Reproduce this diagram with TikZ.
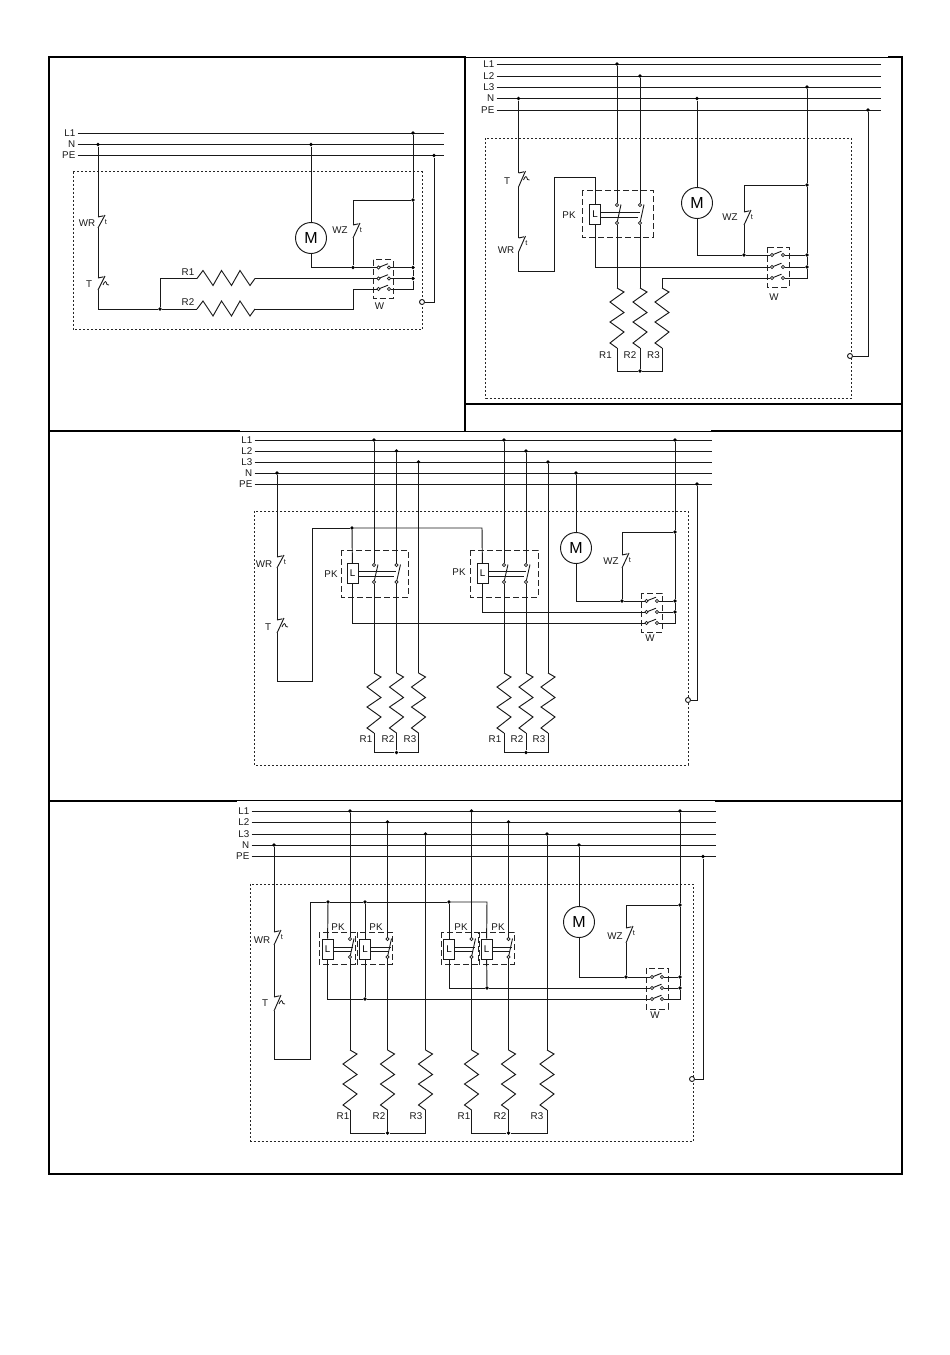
\documentclass[tikz,border=0pt]{standalone}
\usepackage{fontspec}
\setmainfont{Liberation Sans}
\tikzset{
  wire/.style={line width=0.95pt,line join=miter,draw=black!90},
  framefat/.style={line width=2pt,draw=black,line cap=rect},
  framethin/.style={line width=1pt,draw=black},
  dotbox/.style={line width=0.95pt,draw=black!85,dash pattern=on 2pt off 2pt},
  dashbox/.style={line width=0.95pt,draw=black!85,dash pattern=on 6pt off 3pt},
  lbl/.style={font=\fontsize{9.8}{10}\selectfont,inner sep=0.5pt,text=black!90},
  tiny/.style={font=\fontsize{7.5}{8}\selectfont,inner sep=0pt,text=black!90},
  jdot/.style={circle,fill=black,inner sep=0pt,minimum size=3.8pt},
  pole/.style={circle,draw=black!90,fill=white,line width=0.7pt,inner sep=0pt,minimum size=3.2pt},
  term/.style={circle,draw=black!90,fill=white,line width=0.9pt,inner sep=0pt,minimum size=5pt},
  motor/.style={circle,draw=black!90,line width=0.95pt,inner sep=0pt,minimum size=31pt,font=\fontsize{16}{17}\selectfont},
  lcoil/.style={rectangle,draw=black!90,line width=0.95pt,inner sep=0pt,minimum width=11pt,minimum height=20pt,font=\fontsize{9.8}{10}\selectfont},
}
% named helpers
\newcommand{\busln}[5]{\node[lbl,anchor=east] (#1) at (#3,#4) {#2}; \coordinate (#1-e) at (#5,#4); \draw[wire] (#1.east) ++(1.5,0) -- (#1-e);}
\newcommand{\jn}[3]{\node[jdot] (#1) at (#2,#3) {};}
\newcommand{\cpt}[3]{\coordinate (#1) at (#2,#3);}
\newcommand{\lab}[4]{\node[lbl] (#1) at (#2,#3) {#4};}
\newcommand{\vres}[3]{\draw[wire] (#2,#3) coordinate (#1-t) -- ++(7,4) -- ++(-14,10) -- ++(14,10.5) -- ++(-14,9.5) -- ++(14,10) -- ++(-14,11) -- ++(7,5) coordinate (#1-b);}
\newcommand{\hres}[3]{\draw[wire] (#2,#3) coordinate (#1-l) -- ++(6,-8) -- ++(10,15) -- ++(8.5,-15) -- ++(10,15) -- ++(8.5,-15) -- ++(10,15) -- ++(5,-7) coordinate (#1-r);}
% normally closed contact: name x top bottom
\newcommand{\ncbase}[4]{\coordinate (#1-t) at (#2,#3); \coordinate (#1-b) at (#2,#4);
  \draw[wire] (#1-b) -- ([shift={(7pt,2pt)}]#1-t); \draw[wire] (#1-t) -- ([shift={(5.5pt,1.2pt)}]#1-t);}
\newcommand{\nct}[4]{\ncbase{#1}{#2}{#3}{#4}\node[tiny] (#1-x) at ([shift={(8pt,-5.5pt)}]#1-t) {t};}
\newcommand{\ncw}[4]{\ncbase{#1}{#2}{#3}{#4}\draw[line width=0.8pt,black!90] ([shift={(5pt,-7pt)}]#1-t) .. controls ([shift={(7pt,-2.5pt)}]#1-t) and ([shift={(8pt,-2.5pt)}]#1-t) .. ([shift={(9pt,-6.5pt)}]#1-t) -- ([shift={(11pt,-7pt)}]#1-t);}
% three-phase row contact of W: name xleft xright y
\newcommand{\wrow}[4]{\draw[wire,line width=0.9pt] (#2,#4) -- ++(9.5,-3.8);
  \node[pole] (#1-l) at (#2,#4) {}; \node[pole] (#1-r) at (#3,#4) {};}
% PK contact: name x ytop ybot
\newcommand{\pkc}[4]{\path (#2,#3) ++(4,-0.5) coordinate (#1-k); \draw[wire,line width=0.9pt] (#2,#4) -- (#1-k);
  \node[pole] (#1-t) at (#2,#3) {}; \node[pole] (#1-b) at (#2,#4) {};}
\begin{document}
\begin{tikzpicture}[x=1pt,y=-1pt]
\useasboundingbox (0,0) rectangle (950,1355);
% ---------- frame
\draw[framefat] (49,57) -- (902,57) -- (902,1174) -- (49,1174) -- cycle;
\draw[framefat] (465,57) -- (465,431);
\draw[framefat] (465,404) -- (902,404);
\draw[framefat] (49,431) -- (239,431);
\draw[framefat] (712,431) -- (902,431);
\draw[framethin] (239,431) -- (712,431);
\draw[framefat] (49,800.5) -- (236,800.5);
\draw[framefat] (716,800.5) -- (902,800.5);
\draw[framethin] (236,800.5) -- (716,800.5);
\draw[white,line width=1.2pt] (466,56.6) -- (888,56.6);

% ========== panel A
\busln{aL1}{L1}{76}{133}{444}
\busln{aN}{N}{76}{144.5}{444}
\busln{aPE}{PE}{76}{155.5}{444}
\draw[dotbox] (73,171.5) rectangle (422,329.5);
\jn{aj1}{98}{144.5}
\jn{aj2}{311}{144.5}
\jn{aj3}{413}{133}
\jn{aj4}{434}{155.5}
\jn{aj5}{413}{200}
\jn{aj6}{413}{267.5}
\jn{aj7}{413}{278.5}
\jn{aj8}{353}{267.5}
\jn{aj9}{160}{309}
\cpt{ac1}{353}{309}
\node[term] (aO) at (422,302) {};
\nct{aWR}{98}{217}{228}
\ncw{aT}{98}{278}{290}
\nct{aWZ}{353}{225}{238}
\hres{aR1}{197}{278.5}
\hres{aR2}{197}{309}
\node[motor] (aM) at (311,238) {M};
\wrow{aK1}{378.5}{389}{267.5}
\wrow{aK2}{378.5}{389}{278.5}
\wrow{aK3}{378.5}{389}{289}
\draw[dashbox] (373,259.5) rectangle (393,298);
\draw[wire] (aj1) -- (aWR-t);
\draw[wire] (aWR-b) -- (aT-t);
\draw[wire] (aT-b) |- (aj9);
\draw[wire] (aj9) -- (aR2-l);
\draw[wire] (aj9) |- (aR1-l);
\draw[wire] (aR1-r) -- (aK2-l);
\draw[wire] (aK2-r) -- (aj7);
\draw[wire] (aR2-r) -- (ac1) |- (aK3-l);
\draw[wire] (aK3-r) -| (aj7);
\draw[wire] (aj3) -- (aj5);
\draw[wire] (aj5) -- (aj6);
\draw[wire] (aj6) -- (aj7);
\draw[wire] (aj2) -- (aM);
\draw[wire] (aM) |- (aj8);
\draw[wire] (aj8) -- (aK1-l);
\draw[wire] (aK1-r) -- (aj6);
\draw[wire] (aj5) -| (aWZ-t);
\draw[wire] (aWZ-b) -- (aj8);
\draw[wire] (aj4) |- (aO);
\lab{aLa}{87}{223}{WR}
\lab{aLb}{89}{284}{T}
\lab{aLc}{188}{272}{R1}
\lab{aLd}{188}{302.5}{R2}
\lab{aLe}{340}{230}{WZ}
\lab{aLf}{379.5}{306.5}{W}

% ========== panel B
\busln{bL1}{L1}{495}{64}{881}
\busln{bL2}{L2}{495}{76}{881}
\busln{bL3}{L3}{495}{87}{881}
\busln{bN}{N}{495}{98.5}{881}
\busln{bPE}{PE}{495}{110}{881}
\draw[dotbox] (485.5,138) rectangle (851,398);
\jn{bj1}{518.5}{98.5}
\jn{bj2}{617}{64}
\jn{bj3}{640}{76}
\jn{bj4}{697}{98.5}
\jn{bj5}{807}{87}
\jn{bj6}{868}{110}
\jn{bj7}{807}{185}
\jn{bj8}{807}{255}
\jn{bj9}{807}{267}
\jn{bj10}{744}{255}
\jn{bj11}{640}{371}
\node[term] (bO) at (850,356) {};
\ncw{bT}{518.5}{173}{187}
\nct{bWR}{518.5}{238}{252}
\nct{bWZ}{744}{212}{225}
\cpt{bc1}{518.5}{271}
\cpt{bc2}{554}{177}
\node[lcoil] (bK) at (595,214.5) {L};
\pkc{bC1}{617}{205}{223}
\pkc{bC2}{640}{205}{223}
\draw[dashbox] (582,190) rectangle (653,237);
\draw[wire] ([yshift=2.5pt]bK.east) -- ++(39,0);
\draw[wire] ([yshift=-2.5pt]bK.east) -- ++(37,0);
\vres{bR1}{617}{288}
\vres{bR2}{640}{288}
\vres{bR3}{662}{288}
\node[motor] (bM) at (697,203) {M};
\wrow{bS1}{772}{783}{255}
\wrow{bS2}{772}{783}{267}
\wrow{bS3}{772}{783}{278}
\draw[dashbox] (767,247) rectangle (789,287);
\cpt{bc3}{662}{278}
\cpt{bc4}{617}{371}
\cpt{bc5}{662}{371}
\draw[wire] (bj1) -- (bT-t);
\draw[wire] (bT-b) -- (bWR-t);
\draw[wire] (bWR-b) -- (bc1) -| (bc2) -| (bK);
\draw[wire] (bK) |- (bS2-l);
\draw[wire] (bS2-r) -- (bj9);
\draw[wire] (bj2) -- (bC1-t);
\draw[wire] (bj3) -- (bC2-t);
\draw[wire] (bC1-b) -- (bR1-t);
\draw[wire] (bC2-b) -- (bR2-t);
\draw[wire] (bR3-t) -- (bc3) -- (bS3-l);
\draw[wire] (bS3-r) -| (bj9);
\draw[wire] (bj5) -- (bj7);
\draw[wire] (bj7) -- (bj8);
\draw[wire] (bj8) -- (bj9);
\draw[wire] (bj4) -- (bM);
\draw[wire] (bM) |- (bj10);
\draw[wire] (bj10) -- (bS1-l);
\draw[wire] (bS1-r) -- (bj8);
\draw[wire] (bj7) -| (bWZ-t);
\draw[wire] (bWZ-b) -- (bj10);
\draw[wire] (bj6) |- (bO);
\draw[wire] (bR1-b) -- (bc4) -- (bj11);
\draw[wire] (bR2-b) -- (bj11);
\draw[wire] (bR3-b) -- (bc5) -- (bj11);
\lab{bLa}{507}{181}{T}
\lab{bLb}{506}{250}{WR}
\lab{bLc}{569}{215}{PK}
\lab{bLd}{730}{217}{WZ}
\lab{bLe}{774}{297}{W}
\lab{bLf}{605.5}{355}{R1}
\lab{bLg}{630}{355}{R2}
\lab{bLh}{653.5}{355}{R3}

% ========== panel C
\busln{cL1}{L1}{253}{440}{712}
\busln{cL2}{L2}{253}{451}{712}
\busln{cL3}{L3}{253}{462}{712}
\busln{cN}{N}{253}{473}{712}
\busln{cPE}{PE}{253}{484}{712}
\draw[dotbox] (254,511) rectangle (688,765);
\jn{cj1}{277}{473}
\jn{cj2}{374}{440}
\jn{cj3}{396.5}{451}
\jn{cj4}{418.5}{462}
\jn{cj5}{504}{440}
\jn{cj6}{526}{451}
\jn{cj7}{548}{462}
\jn{cj8}{576}{473}
\jn{cj9}{675}{440}
\jn{cj10}{697}{484}
\jn{cj11}{352}{528}
\jn{cj12}{675}{532}
\jn{cj13}{675}{601}
\jn{cj14}{675}{612}
\jn{cj15}{622}{601}
\jn{cj16}{396.5}{752.5}
\jn{cj17}{526}{752.5}
\node[term] (cO) at (688,700) {};
\nct{cWR}{277}{557}{568}
\ncw{cT}{277}{620}{633}
\nct{cWZ}{622}{555}{568}
\cpt{cc1}{277}{681}
\cpt{cc2}{312}{528}
\cpt{cc3}{482}{528}
\node[lcoil] (cKa) at (352.5,573.5) {L};
\node[lcoil] (cKb) at (482.5,573.5) {L};
\pkc{cA1}{374}{565}{582}
\pkc{cA2}{396.5}{565}{582}
\pkc{cB1}{504}{565}{582}
\pkc{cB2}{526}{565}{582}
\draw[dashbox] (341,550) rectangle (408,597);
\draw[dashbox] (470,550) rectangle (538,597);
\draw[wire] ([yshift=2.5pt]cKa.east) -- ++(38,0);
\draw[wire] ([yshift=-2.5pt]cKa.east) -- ++(36,0);
\draw[wire] ([yshift=2.5pt]cKb.east) -- ++(38,0);
\draw[wire] ([yshift=-2.5pt]cKb.east) -- ++(36,0);
\vres{cR1}{374}{673}
\vres{cR2}{396.5}{673}
\vres{cR3}{418.5}{673}
\vres{cR4}{504}{673}
\vres{cR5}{526}{673}
\vres{cR6}{548}{673}
\node[motor] (cM) at (576,548) {M};
\wrow{cS1}{646.5}{657}{601}
\wrow{cS2}{646.5}{657}{612}
\wrow{cS3}{646.5}{657}{623}
\draw[dashbox] (641,593) rectangle (662,632);
\draw[wire] (cj1) -- (cWR-t);
\draw[wire] (cWR-b) -- (cT-t);
\draw[wire] (cT-b) -- (cc1) -- (cc1 -| cc2) -- (cc2) -- (cj11);
\draw[wire] (cj11) -- (cc3) -- (cKb);
\draw[wire] (cj11) -- (cKa);
\draw[wire] (cKa) |- (cS3-l);
\draw[wire] (cKb) |- (cS2-l);
\draw[wire] (cS2-r) -- (cj14);
\draw[wire] (cS3-r) -| (cj14);
\draw[wire] (cj2) -- (cA1-t);
\draw[wire] (cj3) -- (cA2-t);
\draw[wire] (cj5) -- (cB1-t);
\draw[wire] (cj6) -- (cB2-t);
\draw[wire] (cA1-b) -- (cR1-t);
\draw[wire] (cA2-b) -- (cR2-t);
\draw[wire] (cj4) -- (cR3-t);
\draw[wire] (cB1-b) -- (cR4-t);
\draw[wire] (cB2-b) -- (cR5-t);
\draw[wire] (cj7) -- (cR6-t);
\draw[wire] (cj9) -- (cj12);
\draw[wire] (cj12) -- (cj13);
\draw[wire] (cj13) -- (cj14);
\draw[wire] (cj8) -- (cM);
\draw[wire] (cM) |- (cj15);
\draw[wire] (cj15) -- (cS1-l);
\draw[wire] (cS1-r) -- (cj13);
\draw[wire] (cj12) -| (cWZ-t);
\draw[wire] (cWZ-b) -- (cj15);
\draw[wire] (cj10) |- (cO);
\draw[wire] (cR1-b) |- (cj16);
\draw[wire] (cR2-b) -- (cj16);
\draw[wire] (cR3-b) |- (cj16);
\draw[wire] (cR4-b) |- (cj17);
\draw[wire] (cR5-b) -- (cj17);
\draw[wire] (cR6-b) |- (cj17);
\lab{cLa}{264}{564}{WR}
\lab{cLb}{268}{627}{T}
\lab{cLc}{331}{574.5}{PK}
\lab{cLd}{459}{572.5}{PK}
\lab{cLe}{611}{561}{WZ}
\lab{cLf}{650}{638.5}{W}
\lab{cLg}{366}{739}{R1}
\lab{cLh}{388}{739}{R2}
\lab{cLi}{410}{739}{R3}
\lab{cLj}{495}{739}{R1}
\lab{cLk}{517}{739}{R2}
\lab{cLl}{539}{739}{R3}

% ========== panel D
\busln{dL1}{L1}{250}{811}{716}
\busln{dL2}{L2}{250}{822}{716}
\busln{dL3}{L3}{250}{834}{716}
\busln{dN}{N}{250}{845}{716}
\busln{dPE}{PE}{250}{856.5}{716}
\draw[dotbox] (250.5,884) rectangle (693,1141);
\jn{dj1}{274}{845}
\jn{dj2}{350}{811}
\jn{dj3}{387.5}{822}
\jn{dj4}{425.5}{834}
\jn{dj5}{471.5}{811}
\jn{dj6}{508.5}{822}
\jn{dj7}{547}{834}
\jn{dj8}{579}{845}
\jn{dj9}{680}{811}
\jn{dj10}{703}{856.5}
\jn{dj11}{328}{902}
\jn{dj12}{365}{902}
\jn{dj13}{449}{902}
\jn{dj14}{365}{999}
\jn{dj15}{487}{988}
\jn{dj16}{680}{905}
\jn{dj17}{680}{977}
\jn{dj18}{680}{988}
\jn{dj19}{626}{977}
\jn{dj20}{387.5}{1133}
\jn{dj21}{508.5}{1133}
\node[term] (dO) at (692,1079) {};
\nct{dWR}{274}{932}{945}
\ncw{dT}{274}{997}{1011}
\nct{dWZ}{626}{928}{943}
\cpt{dc1}{274}{1059}
\cpt{dc2}{310}{902}
\cpt{dc3}{487}{902}
\node[lcoil] (dKa) at (327.5,949) {L};
\node[lcoil] (dKb) at (365,949) {L};
\node[lcoil] (dKc) at (449,949) {L};
\node[lcoil] (dKd) at (486.5,949) {L};
\pkc{dA}{350}{939}{957}
\pkc{dB}{387.5}{939}{957}
\pkc{dC}{471.5}{939}{957}
\pkc{dD}{508.5}{939}{957}
\draw[dashbox] (319,932) rectangle (355,964);
\draw[dashbox] (357,932) rectangle (392.5,964);
\draw[dashbox] (441,932) rectangle (478,964);
\draw[dashbox] (479,932) rectangle (514,964);
\draw[wire] ([yshift=2pt]dKa.east) -- ++(20,0);
\draw[wire] ([yshift=-2pt]dKa.east) -- ++(18,0);
\draw[wire] ([yshift=2pt]dKb.east) -- ++(20,0);
\draw[wire] ([yshift=-2pt]dKb.east) -- ++(18,0);
\draw[wire] ([yshift=2pt]dKc.east) -- ++(20,0);
\draw[wire] ([yshift=-2pt]dKc.east) -- ++(18,0);
\draw[wire] ([yshift=2pt]dKd.east) -- ++(20,0);
\draw[wire] ([yshift=-2pt]dKd.east) -- ++(18,0);
\vres{dR1}{350}{1050}
\vres{dR2}{387.5}{1050}
\vres{dR3}{425.5}{1050}
\vres{dR4}{471.5}{1050}
\vres{dR5}{508.5}{1050}
\vres{dR6}{547}{1050}
\node[motor] (dM) at (579,922) {M};
\wrow{dS1}{652}{662}{977}
\wrow{dS2}{652}{662}{988}
\wrow{dS3}{652}{662}{999}
\draw[dashbox] (646,968) rectangle (668,1009);
\draw[wire] (dj1) -- (dWR-t);
\draw[wire] (dWR-b) -- (dT-t);
\draw[wire] (dT-b) -- (dc1) -- (dc1 -| dc2) -- (dc2) -- (dj11);
\draw[wire] (dj11) -- (dj12);
\draw[wire] (dj12) -- (dj13);
\draw[wire] (dj13) -- (dc3) -- (dKd);
\draw[wire] (dj11) -- (dKa);
\draw[wire] (dj12) -- (dKb);
\draw[wire] (dj13) -- (dKc);
\draw[wire] (dKa) |- (dj14);
\draw[wire] (dKb) -- (dj14);
\draw[wire] (dj14) -- (dS3-l);
\draw[wire] (dKc) |- (dj15);
\draw[wire] (dKd) -- (dj15);
\draw[wire] (dj15) -- (dS2-l);
\draw[wire] (dS2-r) -- (dj18);
\draw[wire] (dS3-r) -| (dj18);
\draw[wire] (dj2) -- (dA-t);
\draw[wire] (dj3) -- (dB-t);
\draw[wire] (dj5) -- (dC-t);
\draw[wire] (dj6) -- (dD-t);
\draw[wire] (dA-b) -- (dR1-t);
\draw[wire] (dB-b) -- (dR2-t);
\draw[wire] (dj4) -- (dR3-t);
\draw[wire] (dC-b) -- (dR4-t);
\draw[wire] (dD-b) -- (dR5-t);
\draw[wire] (dj7) -- (dR6-t);
\draw[wire] (dj9) -- (dj16);
\draw[wire] (dj16) -- (dj17);
\draw[wire] (dj17) -- (dj18);
\draw[wire] (dj8) -- (dM);
\draw[wire] (dM) |- (dj19);
\draw[wire] (dj19) -- (dS1-l);
\draw[wire] (dS1-r) -- (dj17);
\draw[wire] (dj16) -| (dWZ-t);
\draw[wire] (dWZ-b) -- (dj19);
\draw[wire] (dj10) |- (dO);
\draw[wire] (dR1-b) |- (dj20);
\draw[wire] (dR2-b) -- (dj20);
\draw[wire] (dR3-b) |- (dj20);
\draw[wire] (dR4-b) |- (dj21);
\draw[wire] (dR5-b) -- (dj21);
\draw[wire] (dR6-b) |- (dj21);
\lab{dLa}{262}{940}{WR}
\lab{dLb}{265}{1003}{T}
\lab{dLc}{338}{927}{PK}
\lab{dLd}{376}{927}{PK}
\lab{dLe}{461}{927}{PK}
\lab{dLf}{498}{927}{PK}
\lab{dLg}{615}{936}{WZ}
\lab{dLh}{655}{1015.5}{W}
\lab{dLi}{343}{1116}{R1}
\lab{dLj}{379}{1116}{R2}
\lab{dLk}{416}{1116}{R3}
\lab{dLl}{464}{1116}{R1}
\lab{dLm}{500}{1116}{R2}
\lab{dLn}{537}{1116}{R3}
\end{tikzpicture}
\end{document}
